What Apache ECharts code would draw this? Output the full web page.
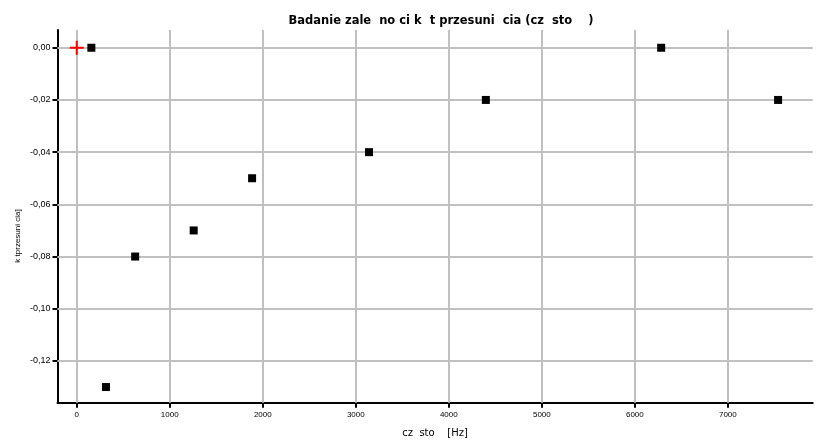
<!DOCTYPE html>
<html><head><meta charset="utf-8">
<script src="https://cdn.jsdelivr.net/npm/echarts@6/dist/echarts.min.js"></script>
<style>html,body{margin:0;padding:0;background:#fff}#c{width:829px;height:446px}</style>
</head><body><div id="c"></div>
<script>
const titleText = 'Badanie zale  no ci k  t przesuni  cia (cz  sto    )';
const xName = 'cz  sto    [Hz]';
const yName = 'k tprzesuni cia]';
const freq = [157, 314, 628, 1257, 1885, 3142, 4398, 6283, 7540];
const angle = [0.00, -0.13, -0.08, -0.07, -0.05, -0.04, -0.02, 0.00, -0.02];
const originPoint = [[0, 0]];
const xTicks = [0, 1000, 2000, 3000, 4000, 5000, 6000, 7000];
const yTicks = [-0.12, -0.10, -0.08, -0.06, -0.04, -0.02, 0.00];
const xRange = [-207, 7912];
const yRange = [-0.136, 0.0068];

const font = 'Liberation Sans, Arial, sans-serif';
const chart = echarts.init(document.getElementById('c'), null, {renderer: 'canvas'});
chart.setOption({
  animation: false,
  backgroundColor: '#fff',
  title: {text: titleText, left: 436, top: 10, textAlign: 'center',
    textStyle: {fontFamily: 'DejaVu Sans, sans-serif', fontSize: 11.5, fontWeight: 'bold', color: '#000'}},
  grid: {left: 57.5, right: 16.3, top: 30, bottom: 43.3, containLabel: false},
  xAxis: {
    type: 'value', min: xRange[0], max: xRange[1],
    name: xName, nameLocation: 'middle', nameGap: 26,
    nameTextStyle: {fontFamily: 'DejaVu Sans, sans-serif', fontSize: 10, color: '#000'},
    axisLine: {show: true, onZero: false, lineStyle: {color: '#000', width: 2}},
    axisTick: {show: true, length: 5, lineStyle: {color: '#000', width: 2}, customValues: xTicks},
    axisLabel: {fontFamily: font, fontSize: 8, color: '#000', margin: 8, customValues: xTicks,
      formatter: v => String(v)},
    splitLine: {show: false}
  },
  yAxis: {
    type: 'value', min: yRange[0], max: yRange[1],
    axisLine: {show: true, onZero: false, lineStyle: {color: '#000', width: 2}},
    axisTick: {show: true, length: 5, lineStyle: {color: '#000', width: 2}, customValues: yTicks},
    axisLabel: {fontFamily: font, fontSize: 9, color: '#000', margin: 7, customValues: yTicks,
      formatter: v => v.toFixed(2).replace('.', ',')},
    splitLine: {show: false}
  },
  graphic: [{
    type: 'text', x: 18, y: 236, rotation: Math.PI / 2,
    style: {text: yName, fontFamily: font, fontSize: 8, fill: '#000', align: 'center', verticalAlign: 'middle'}
  }],
  series: [
    {
      type: 'line', data: [], silent: true, z: 1,
      markLine: {
        silent: true, symbol: 'none', label: {show: false}, z: 1,
        lineStyle: {color: '#c0c0c0', width: 2, type: 'solid', opacity: 1},
        data: xTicks.map(v => ({xAxis: v})).concat(yTicks.map(v => ({yAxis: v})))
      }
    },
    {
      type: 'scatter', symbol: 'rect', symbolSize: 8, z: 5,
      itemStyle: {color: '#000', opacity: 1},
      data: freq.map((f, i) => [f, angle[i]])
    },
    {
      type: 'scatter', z: 6,
      symbol: 'path://M-1,-7H1V-1H7V1H1V7H-1V1H-7V-1H-1Z', symbolSize: 14,
      itemStyle: {color: '#ff0000', opacity: 1},
      data: originPoint
    }
  ]
});
</script></body></html>
